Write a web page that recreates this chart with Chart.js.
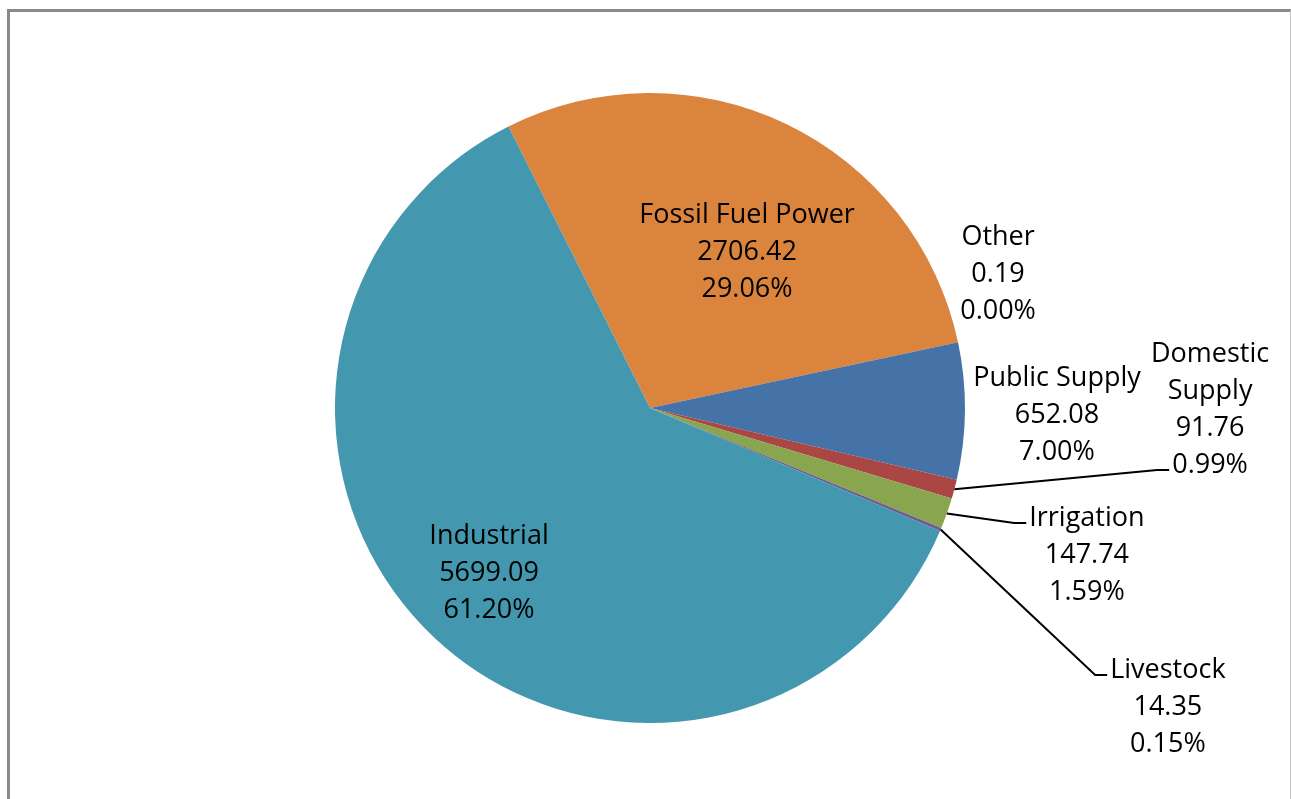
<!DOCTYPE html>
<html>
<head>
<meta charset="utf-8">
<title>Water use by category</title>
<script src="https://cdn.jsdelivr.net/npm/chart.js@4/dist/chart.umd.min.js"></script>
<style>
    html, body { margin: 0; padding: 0; background: #fff; overflow: hidden; }
    #wrap { position: relative; width: 1291px; height: 799px; }
    #frame {
        position: absolute; left: 7px; top: 9px; width: 1284px; height: 900px;
        border-top: 3px solid #8a8a8a; border-left: 3px solid #8a8a8a; border-right: 1px solid #c4c4c4;
        box-sizing: border-box;
    }
    #chart { position: absolute; left: 0; top: 0; }
</style>
</head>
<body>
<div id="wrap">
    <div id="frame"></div>
    <canvas id="chart" width="1291" height="799"></canvas>
</div>
<script>
// Data (clockwise from the Fossil Fuel Power slice)
const categories = ['Fossil Fuel Power', 'Other', 'Public Supply', 'Domestic Supply', 'Irrigation', 'Livestock', 'Industrial'];
const values = [2706.42, 0.19, 652.08, 91.76, 147.74, 14.35, 5699.09];
const percentLabels = ['29.06%', '0.00%', '7.00%', '0.99%', '1.59%', '0.15%', '61.20%'];
const sliceColors = ['#DB843D', '#93A9CF', '#4572A7', '#AA4643', '#89A54E', '#71588F', '#4398AF'];

// Label placement, in pie radii from the centre; names may wrap onto several lines
const labelPlacement = {
    'Fossil Fuel Power': { dx: 0.308, dy: -0.495, lines: ['Fossil Fuel Power'] },
    'Other':             { dx: 1.105, dy: -0.425, lines: ['Other'] },
    'Public Supply':     { dx: 1.292, dy: 0.022, lines: ['Public Supply'] },
    'Domestic Supply':   { dx: 1.778, dy: 0.005, lines: ['Domestic', 'Supply'], leader: 3 },
    'Irrigation':        { dx: 1.387, dy: 0.467, lines: ['Irrigation'], leader: 0 },
    'Livestock':         { dx: 1.644, dy: 0.949, lines: ['Livestock'], leader: 0 },
    'Industrial':        { dx: -0.511, dy: 0.524, lines: ['Industrial'] }
};

const FONT = '27px "Open Sans", "Noto Sans", sans-serif';
const LINE_H = 37;

// Draws the data labels and leader lines after the slices
const pieLabels = {
    id: 'pieLabels',
    afterDatasetsDraw: function(chart) {
        const ctx = chart.ctx;
        const meta = chart.getDatasetMeta(0);
        ctx.save();
        ctx.font = FONT;
        ctx.fillStyle = '#000';
        ctx.strokeStyle = '#000';
        ctx.lineWidth = 2;
        ctx.textAlign = 'center';
        ctx.textBaseline = 'middle';

        meta.data.forEach(function(arc, i) {
            const place = labelPlacement[categories[i]];
            const r = arc.outerRadius;
            const cx = arc.x + place.dx * r;
            const cy = arc.y + place.dy * r;
            const lines = place.lines.concat([values[i].toFixed(2), percentLabels[i]]);
            const top = cy - (lines.length - 1) * LINE_H / 2;

            lines.forEach(function(text, k) {
                ctx.fillText(text, cx, top + k * LINE_H);
            });

            if (place.leader !== undefined) {
                const mid = (arc.startAngle + arc.endAngle) / 2;
                const sx = arc.x + Math.cos(mid) * r;
                const sy = arc.y + Math.sin(mid) * r;
                const w = ctx.measureText(lines[place.leader]).width;
                const ey = top + place.leader * LINE_H + 5;
                const ex = cx - w / 2 - 3;
                ctx.beginPath();
                ctx.moveTo(sx, sy);
                ctx.lineTo(ex - 12, ey);
                ctx.lineTo(ex, ey);
                ctx.stroke();
            }
        });
        ctx.restore();
    }
};

new Chart(document.getElementById('chart'), {
    type: 'pie',
    data: {
        labels: categories,
        datasets: [{
            data: values,
            backgroundColor: sliceColors,
            borderWidth: 0
        }]
    },
    options: {
        responsive: false,
        animation: false,
        devicePixelRatio: 1,
        rotation: -26.7,
        layout: { padding: { top: 93, bottom: 76, left: 335, right: 326 } },
        events: [],
        plugins: {
            legend: { display: false },
            tooltip: { enabled: false }
        }
    },
    plugins: [pieLabels]
});
</script>
</body>
</html>
